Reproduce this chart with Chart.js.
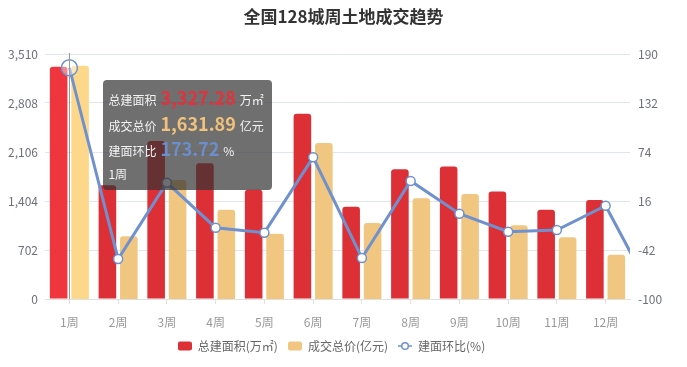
<!DOCTYPE html>
<html>
<head>
<meta charset="utf-8">
<script src="https://cdn.jsdelivr.net/npm/chart.js@4.4.1/dist/chart.umd.min.js"></script>
<style>
  body { margin: 0; background: #fff; }
  #wrap { position: relative; width: 687px; height: 367px; }
  #tip {
    position: absolute; display: none; pointer-events: none;
    background: rgba(50, 50, 50, 0.7); border-radius: 4px;
    padding: 6px 8px 5px 5px; color: #f4f4f4; white-space: nowrap;
    font-family: 'Noto Sans CJK SC', 'Noto Sans', sans-serif; font-size: 12px; line-height: 22.5px;
  }
  #tip b { font-size: 18px; font-weight: bold; margin: 0 4px; }
</style>
</head>
<body>
<div id="wrap">
  <canvas id="chart" width="687" height="367"></canvas>
  <div id="tip"></div>
</div>
<script>
var weeks = ['1周', '2周', '3周', '4周', '5周', '6周', '7周', '8周', '9周', '10周', '11周', '12周'];
// 总建面积 (万㎡)
var area = [3327.28, 1630, 2265, 1945, 1565, 2655, 1320, 1860, 1900, 1540, 1278, 1420];
// 成交总价 (亿元)
var price = [1631.89, 439, 833, 625, 457, 1092, 532, 705, 735, 516, 432, 310];
// 建面环比 (%), the last value is the week after 12周 (runs off the right edge)
var ratio = [173.72, -52.7, 37.7, -15.6, -21.5, 67.7, -51.5, 39.7, 1.0, -20.3, -18.3, 10.4, -98];

var areaAxis = [0, 3510, 702];
var ratioAxis = [-100, 190, 58];
var priceAxis = [0, 1714];

var names = ['总建面积(万㎡)', '成交总价(亿元)', '建面环比(%)'];
var tipNames = ['总建面积', '成交总价', '建面环比'];
var tipUnits = ['万㎡', '亿元', '%'];
var tipColors = ['#e3323b', '#f0c27b', '#6b8fcd'];

var red = '#dc3036', yellow = '#f0c680', blue = '#6f91cd';
var font = "'Noto Sans CJK SC', 'Noto Sans', sans-serif";

Chart.defaults.font.family = font;
Chart.defaults.font.size = 12;

// the x axis is linear (week index) so the ratio line can run past 12周
function toPoints(arr) {
  return arr.map(function(v, i) { return { x: i, y: v }; });
}

function legendIcon(kind, color) {
  var c = document.createElement('canvas');
  c.width = 14; c.height = 10;
  var g = c.getContext('2d');
  if (kind === 'bar') {
    g.fillStyle = color;
    g.beginPath();
    g.roundRect(0, 0.5, 14, 9, 2);
    g.fill();
  } else {
    g.strokeStyle = color; g.lineWidth = 1.5;
    g.beginPath(); g.moveTo(0, 5); g.lineTo(14, 5); g.stroke();
    g.fillStyle = '#fff';
    g.beginPath(); g.arc(7, 5, 3.3, 0, Math.PI * 2); g.fill(); g.stroke();
  }
  return c;
}
var icons = [legendIcon('bar', red), legendIcon('bar', yellow), legendIcon('line', blue)];

function fmt(v) {
  return Number(v).toLocaleString('en-US', { minimumFractionDigits: 2, maximumFractionDigits: 2 });
}

function drawTip(context) {
  var tip = document.getElementById('tip');
  var model = context.tooltip;
  if (model.opacity === 0 || !model.dataPoints || !model.dataPoints.length) {
    tip.style.display = 'none';
    return;
  }
  var points = model.dataPoints.slice().sort(function(a, b) { return a.datasetIndex - b.datasetIndex; });
  var html = '';
  points.forEach(function(p) {
    var i = p.datasetIndex;
    html += '<div>' + tipNames[i] + '<b style="color:' + tipColors[i] + '">' + fmt(p.parsed.y) + '</b>' + tipUnits[i] + '</div>';
  });
  html += '<div>' + weeks[points[0].dataIndex] + '</div>';
  tip.innerHTML = html;
  tip.style.display = 'block';
  tip.style.left = (model.caretX + 34) + 'px';
  tip.style.top = (context.chart.chartArea.top + 26) + 'px';
}

var layoutFix = {
  id: 'layoutFix',
  beforeLayout: function(chart) {
    var lg = chart.legend;
    if (lg && !lg._fixed) {
      var fit = lg.fit;
      lg.fit = function() { fit.call(this); this.height = 32; };
      lg._fixed = true;
    }
  },
  afterLayout: function(chart) {
    // echarts centres its legend a little left of the canvas middle
    chart.legend.left -= 12;
    chart.legend.right -= 12;
  },
  afterDatasetsDraw: function(chart) {
    var act = chart.tooltip.getActiveElements();
    if (!act.length) return;
    var x = Math.round(chart.scales.x.getPixelForValue(act[0].index)) + 0.5;
    var ctx = chart.ctx;
    ctx.save();
    ctx.strokeStyle = '#9a9a9a';
    ctx.lineWidth = 1;
    ctx.beginPath();
    ctx.moveTo(x, chart.chartArea.top - 1);
    ctx.lineTo(x, chart.chartArea.bottom);
    ctx.stroke();
    ctx.restore();
  }
};

var chart = new Chart(document.getElementById('chart'), {
  type: 'bar',
  data: {
    datasets: [
      {
        label: names[0], data: toPoints(area), yAxisID: 'y', order: 1,
        backgroundColor: red, hoverBackgroundColor: '#ef363e',
        borderRadius: 3, borderSkipped: 'start',
        categoryPercentage: 0.88, barPercentage: 0.82
      },
      {
        label: names[1], data: toPoints(price), yAxisID: 'y2', order: 1,
        backgroundColor: yellow, hoverBackgroundColor: '#fdd88b',
        borderRadius: 3, borderSkipped: 'start',
        categoryPercentage: 0.88, barPercentage: 0.82
      },
      {
        type: 'line', label: names[2], data: toPoints(ratio), yAxisID: 'y1', order: 0,
        borderColor: blue, borderWidth: 3, tension: 0,
        pointRadius: 4.5, pointBorderWidth: 1.5, pointBackgroundColor: '#fff', pointBorderColor: blue,
        pointHoverRadius: 8, pointHoverBorderWidth: 1.5, pointHoverBackgroundColor: 'rgba(255,255,255,0.4)',
        pointHoverBorderColor: blue,
        clip: { left: 12, top: 12, right: 0, bottom: 12 }
      }
    ]
  },
  options: {
    responsive: false,
    animation: false,
    layout: { padding: { left: 0, right: 0, top: 0, bottom: 5 } },
    interaction: { mode: 'index', intersect: false },
    scales: {
      x: {
        type: 'linear', offset: false, bounds: 'data',
        min: -0.5, max: weeks.length - 0.5,
        afterBuildTicks: function(s) {
          s.ticks = weeks.map(function(w, i) { return { value: i }; });
        },
        afterFit: function(s) { s.height = 31; },
        grid: { display: true, offset: false, drawOnChartArea: false, drawTicks: true, tickLength: 5, color: '#e0e0e0' },
        border: { color: '#e0e0e0' },
        ticks: {
          color: '#999', padding: 11.6, font: { size: 12 }, autoSkip: false, maxRotation: 0,
          callback: function(v) { return weeks[v]; }
        }
      },
      y: {
        position: 'left', min: areaAxis[0], max: areaAxis[1],
        afterFit: function(s) { s.width = 45; },
        grid: { color: '#e0e6f1', drawTicks: false },
        border: { display: false },
        ticks: { stepSize: areaAxis[2], color: '#6e7079', padding: 7 }
      },
      y1: {
        position: 'right', min: ratioAxis[0], max: ratioAxis[1],
        afterFit: function(s) { s.width = 57; },
        grid: { drawOnChartArea: false, drawTicks: false },
        border: { display: false },
        ticks: { stepSize: ratioAxis[2], color: '#6e7079', padding: 8 }
      },
      y2: { display: false, min: priceAxis[0], max: priceAxis[1] }
    },
    plugins: {
      title: {
        display: true, text: '全国128城周土地成交趋势', color: '#333',
        font: { size: 17, weight: 'bold' },
        padding: { top: 6, bottom: 27.6 }
      },
      legend: {
        position: 'bottom',
        labels: {
          usePointStyle: true, pointStyleWidth: 14, boxHeight: 10, padding: 10,
          color: '#666', font: { size: 12 },
          generateLabels: function(c) {
            return c.data.datasets.map(function(ds, i) {
              return {
                text: ds.label, pointStyle: icons[i], fontColor: '#666',
                hidden: !c.isDatasetVisible(i), datasetIndex: i,
                fillStyle: 'transparent', strokeStyle: 'transparent', lineWidth: 0
              };
            });
          }
        }
      },
      tooltip: { enabled: false, external: drawTip }
    }
  },
  plugins: [layoutFix]
});

var active = [0, 1, 2].map(function(i) { return { datasetIndex: i, index: 0 }; });
chart.setActiveElements(active);
chart.tooltip.setActiveElements(active, { x: chart.chartArea.left + 20, y: chart.chartArea.top + 20 });
chart.update();
</script>
</body>
</html>
